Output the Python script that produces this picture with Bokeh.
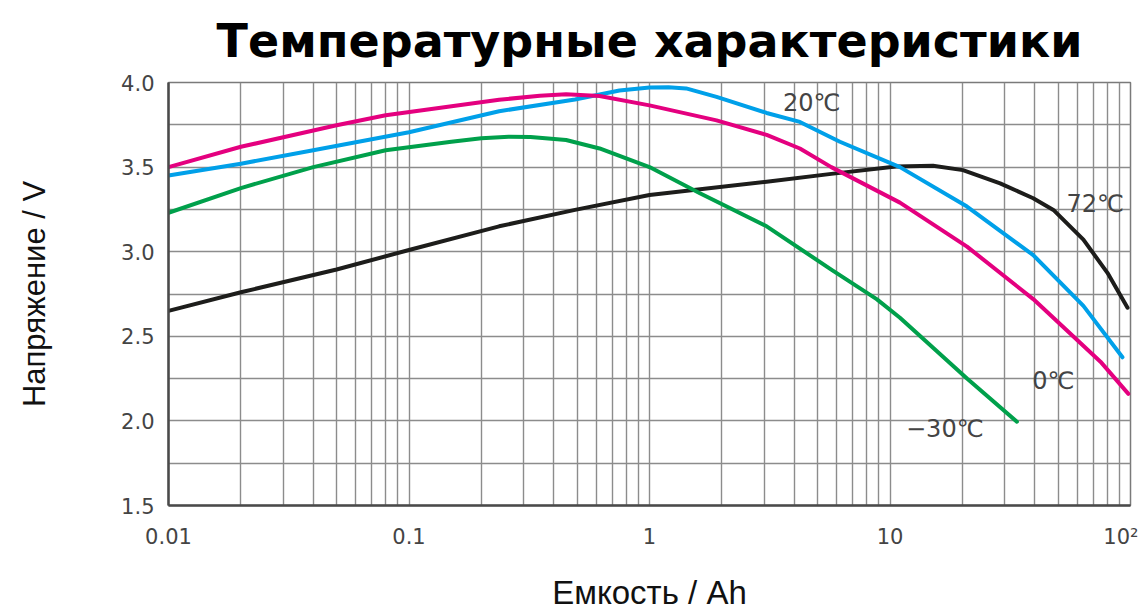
from bokeh.plotting import figure
from bokeh.models import FixedTicker, Label, PrintfTickFormatter
from bokeh.embed import file_html
from bokeh.resources import INLINE

# Capacity (Ah) / voltage (V) readings per temperature
x_72 = [0.01, 0.02, 0.05, 0.1, 0.237, 0.49, 1.0, 3.07, 5.7, 10.6, 15.1, 20.1, 28.7, 39.4, 47.8, 63.7, 80.2, 97.2]
y_72 = [2.65, 2.76, 2.895, 3.01, 3.15, 3.247, 3.335, 3.414, 3.46, 3.503, 3.508, 3.482, 3.404, 3.316, 3.247, 3.071, 2.875, 2.669]

x_20 = [0.01, 0.02, 0.04, 0.1, 0.237, 0.49, 0.75, 1.0, 1.2, 1.42, 1.9, 3.07, 4.22, 6.19, 11.0, 20.9, 39.4, 63.7, 92.6]
y_20 = [3.45, 3.52, 3.60, 3.706, 3.83, 3.90, 3.953, 3.97, 3.972, 3.965, 3.915, 3.82, 3.767, 3.65, 3.50, 3.267, 2.98, 2.68, 2.376]

x_0 = [0.01, 0.02, 0.05, 0.08, 0.237, 0.35, 0.45, 0.62, 1.0, 1.9, 3.07, 4.22, 5.7, 11.0, 20.9, 39.4, 75.0, 98.0]
y_0 = [3.50, 3.62, 3.747, 3.806, 3.898, 3.922, 3.93, 3.92, 3.865, 3.776, 3.69, 3.61, 3.50, 3.29, 3.03, 2.72, 2.35, 2.16]

x_m30 = [0.01, 0.02, 0.04, 0.08, 0.15, 0.2, 0.26, 0.32, 0.45, 0.62, 1.0, 1.62, 3.07, 5.7, 8.8, 11.0, 20.9, 33.7]
y_m30 = [3.23, 3.376, 3.50, 3.60, 3.65, 3.67, 3.68, 3.678, 3.66, 3.61, 3.50, 3.345, 3.15, 2.894, 2.72, 2.61, 2.25, 1.995]

x_ticks = [0.01, 0.1, 1, 10, 100]
x_tick_labels = {0.01: "0.01", 0.1: "0.1", 1: "1", 10: "10", 100: "10²"}
y_ticks = [1.5, 2.0, 2.5, 3.0, 3.5, 4.0]
y_minor = [1.75, 2.25, 2.75, 3.25, 3.75]

title_text = "Температурные характеристики"
curve_labels = ["20℃", "72℃", "0℃", "−30℃"]
label_x = [4.73, 71.4, 47.8, 16.9]
label_y = [3.88, 3.28, 2.235, 1.953]

colors = {"72": "#1d1d1b", "20": "#00a0e9", "0": "#e4007f", "-30": "#00a04b"}

p = figure(width=1138, height=613, x_axis_type="log",
           x_range=(0.01, 100), y_range=(1.5, 4.0),
           output_backend="svg", toolbar_location=None,
           min_border_left=168, min_border_right=8,
           min_border_top=82, min_border_bottom=106,
           background_fill_color="white", border_fill_color="white")

p.title.text = title_text
p.title.align = "center"
p.title.vertical_align = "top"
p.title.text_font = "DejaVu Sans"
p.title.text_font_style = "bold"
p.title.text_font_size = "46px"
p.title.text_color = "#000000"
p.title.standoff = 25

minor_x = [m * 10.0 ** e for e in range(-2, 2) for m in range(2, 10)]
p.xaxis.ticker = FixedTicker(ticks=x_ticks, minor_ticks=minor_x)
p.yaxis.ticker = FixedTicker(ticks=y_ticks, minor_ticks=y_minor)
p.xaxis.major_label_overrides = x_tick_labels
p.yaxis.formatter = PrintfTickFormatter(format="%.1f")

for ax in (p.xaxis, p.yaxis):
    ax.major_tick_line_color = None
    ax.minor_tick_line_color = None
    ax.major_tick_out = 0
    ax.minor_tick_out = 0
    ax.major_tick_in = 0
    ax.minor_tick_in = 0
    ax.axis_line_color = "#4a4a4a"
    ax.axis_line_width = 2.5
    ax.major_label_text_font = "DejaVu Sans"
    ax.major_label_text_font_size = "21px"
    ax.major_label_text_color = "#444444"
    ax.axis_label_text_font = "Liberation Sans"
    ax.axis_label_text_font_style = "normal"
    ax.axis_label_text_color = "#111111"

p.xaxis.axis_label = "Емкость / Ah"
p.xaxis.axis_label_text_font_size = "33px"
p.xaxis.major_label_standoff = 19
p.xaxis.axis_label_standoff = 22

p.yaxis.axis_label = "Напряжение / V"
p.yaxis.axis_label_text_font_size = "31px"
p.yaxis.major_label_standoff = 14
p.yaxis.axis_label_standoff = 66

p.xgrid.ticker = p.xaxis.ticker
p.xgrid.grid_line_color = "#8c8c8c"
p.xgrid.grid_line_width = 1.4
p.xgrid.minor_grid_line_color = "#8c8c8c"
p.xgrid.minor_grid_line_width = 1.4
p.ygrid.grid_line_color = "#8c8c8c"
p.ygrid.grid_line_width = 1.4
p.ygrid.minor_grid_line_color = "#8c8c8c"
p.ygrid.minor_grid_line_width = 1.4

p.outline_line_color = "#7a7a7a"
p.outline_line_width = 1.5

lw = 4
p.line(x_72, y_72, line_color=colors["72"], line_width=lw, line_join="round", line_cap="round")
p.line(x_20, y_20, line_color=colors["20"], line_width=lw, line_join="round", line_cap="round")
p.line(x_0, y_0, line_color=colors["0"], line_width=lw, line_join="round", line_cap="round")
p.line(x_m30, y_m30, line_color=colors["-30"], line_width=lw, line_join="round", line_cap="round")

for t, lx, ly in zip(curve_labels, label_x, label_y):
    p.add_layout(Label(x=lx, y=ly, text=t, text_align="center", text_baseline="middle",
                       text_font="DejaVu Sans", text_font_size="24px", text_color="#444444"))

open("out.html", "w").write(file_html(p, INLINE))
